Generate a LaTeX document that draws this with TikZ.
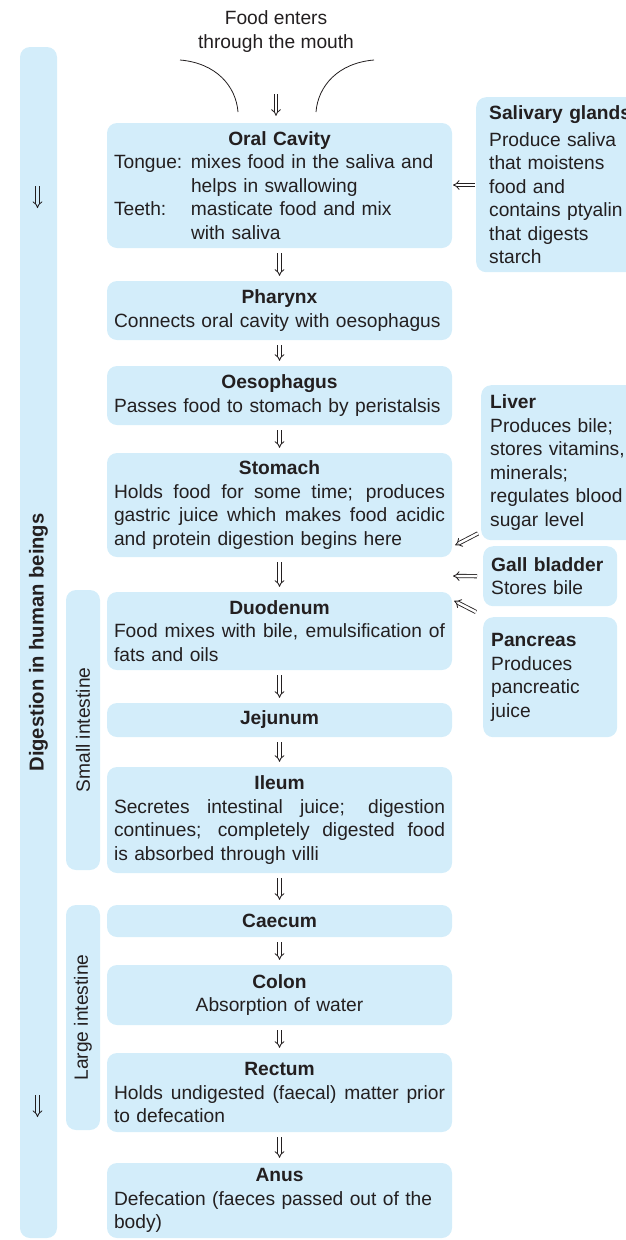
\documentclass[tikz,border=0pt]{standalone}
\usepackage{fontspec}
\setmainfont{Liberation Sans}
\usetikzlibrary{arrows.meta}
\definecolor{bx}{HTML}{D3EDFA}
\definecolor{ink}{HTML}{231F20}
\setlength\parindent{0pt}
\newcommand\jl[1]{\makebox[\hsize][s]{\spaceskip=.278em plus 1em minus .05em\relax #1}}
\newcommand\ttl[1]{\makebox[\hsize]{\bfseries #1}}
\begin{document}
\begin{tikzpicture}[x=1pt, y=-1pt,
  font=\fontsize{19.2}{23.5}\selectfont, text=ink,
  mbox/.style={fill=bx, rounded corners=10pt, text width=331pt, inner xsep=7pt, inner ysep=2pt, align=left},
  sbox/.style={fill=bx, rounded corners=10pt, anchor=north west, align=left, inner ysep=2pt},
  sidebar/.style={fill=bx, rounded corners=10pt, rotate=90, inner sep=0pt},
  dar/.style={draw=ink, double=white, double distance=2.5pt, line width=0.85pt, -{Implies[scale=1.2]}},
  flow/.style={dar, shorten <=5pt, shorten >=5pt}]
\useasboundingbox (0,0) rectangle (625,1240);

% side bars
\node[sidebar, minimum width=1191pt, minimum height=37pt] (digest) at (38.5,642.5) {\fontsize{20.2}{24}\selectfont\bfseries Digestion in human beings};
\node[sidebar, minimum width=280pt, minimum height=34pt] (small) at (83,730) {Small intestine};
\node[sidebar, minimum width=225pt, minimum height=34pt] (large) at (83,1017.5) {Large intestine};
\coordinate (d1a) at (37.5,186);
\coordinate (d1b) at (37.5,208);
\coordinate (d2a) at (37.5,1095);
\coordinate (d2b) at (37.5,1117);
\draw[dar, double=bx] (d1a) -- (d1b);
\draw[dar, double=bx] (d2a) -- (d2b);

% mouth
\node[align=center, inner sep=0pt] (food) at (276,31.5) {Food enters\\through the mouth};
\draw[ink, line width=0.8pt] (180,60) .. controls (216,63) and (236,86) .. (238,112);
\draw[ink, line width=0.8pt] (374,60) .. controls (338,63) and (318,86) .. (316,112);
\coordinate (mouth) at (276,94);

% main column
\node[mbox, minimum height=125pt] (oral) at (279.5,185.5) {\ttl{Oral Cavity}\\
\makebox[77pt][l]{Tongue:}\mbox{mixes food in the saliva and}\\
\hspace*{77pt}helps in swallowing\\
\makebox[77pt][l]{Teeth:}\mbox{masticate food and mix}\\
\hspace*{77pt}with saliva};
\node[mbox, minimum height=59pt] (phar) at (279.5,310.5) {\ttl{Pharynx}\\\mbox{Connects oral cavity with oesophagus}};
\node[mbox, minimum height=59pt] (oeso) at (279.5,395.5) {\ttl{Oesophagus}\\\mbox{Passes food to stomach by peristalsis}};
\node[mbox, minimum height=104pt] (stom) at (279.5,505) {\ttl{Stomach}\\
\jl{Holds food for some time; produces}\\
\jl{gastric juice which makes food acidic}\\
\mbox{and protein digestion begins here}};
\node[mbox, minimum height=78pt] (duod) at (279.5,631) {\ttl{Duodenum}\\
\jl{Food mixes with bile, emulsification of}\\
fats and oils};
\node[mbox, minimum height=34pt] (jeju) at (279.5,720) {\ttl{Jejunum}};
\node[mbox, minimum height=106pt] (ileum) at (279.5,820) {\ttl{Ileum}\\
\jl{Secretes intestinal juice; digestion}\\
\jl{continues; completely digested food}\\
\mbox{is absorbed through villi}};
\node[mbox, minimum height=32pt] (caec) at (279.5,921) {\ttl{Caecum}};
\node[mbox, minimum height=60pt] (colon) at (279.5,995) {\ttl{Colon}\\\makebox[\hsize]{Absorption of water}};
\node[mbox, minimum height=79pt] (rect) at (279.5,1092.5) {\ttl{Rectum}\\
\jl{Holds undigested (faecal) matter prior}\\
to defecation};
\node[mbox, minimum height=75pt] (anus) at (279.5,1200.5) {\ttl{Anus}\\
\mbox{Defecation (faeces passed out of the}\\
body)};

% right column
\node[sbox, minimum height=175pt, text width=150pt, inner xsep=13pt] (saliv) at (476,97) {{\bfseries Salivary glands}\\[3pt]
Produce saliva\\that moistens\\food and\\\mbox{contains ptyalin}\\that digests\\starch};
\node[sbox, minimum height=155pt, text width=150pt, inner xsep=9pt] (liver) at (481,385) {{\bfseries Liver}\\
Produces bile;\\\mbox{stores vitamins,}\\minerals;\\\mbox{regulates blood}\\sugar level};
\node[sbox, minimum height=60pt, text width=118pt, inner xsep=8pt] (gall) at (483,546) {\mbox{\bfseries Gall bladder}\\Stores bile};
\node[sbox, minimum height=120pt, text width=118pt, inner xsep=8pt] (panc) at (483,617) {{\bfseries Pancreas}\\Produces\\pancreatic\\juice\\[4pt]};

% flow arrows
\draw[dar, shorten >=7pt] (mouth) -- (mouth |- oral.north);
\draw[flow] (oral.south) -- (phar.north);
\draw[flow] (phar.south) -- (oeso.north);
\draw[flow] (oeso.south) -- (stom.north);
\draw[flow] (stom.south) -- (duod.north);
\draw[flow] (duod.south) -- (jeju.north);
\draw[flow] (jeju.south) -- (ileum.north);
\draw[flow] (ileum.south) -- (caec.north);
\draw[flow] (caec.south) -- (colon.north);
\draw[flow] (colon.south) -- (rect.north);
\draw[flow] (rect.south) -- (anus.north);

% side arrows
\coordinate (sa) at (452,185);
\draw[dar, shorten <=1pt, shorten >=1pt] (saliv.west |- sa) -- (sa);
\draw[dar] ([shift={(-3,-7)}]liver.south west) -- ([shift={(3,-12)}]stom.south east);
\coordinate (gb) at (453,576);
\draw[dar, shorten <=6pt] (gall.west) -- (gb);
\draw[dar] ([shift={(-7,-5)}]panc.north west) -- ([shift={(2,9)}]duod.north east);
\end{tikzpicture}
\end{document}
